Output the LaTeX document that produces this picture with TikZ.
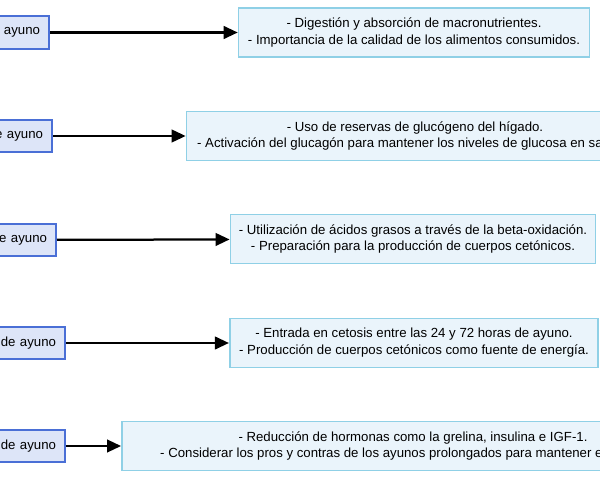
\documentclass[tikz,border=0pt]{standalone}
\usepackage{fontspec}
\setmainfont{Liberation Sans}
\usetikzlibrary{arrows.meta}
\definecolor{stagefill}{HTML}{DDE5F8}
\definecolor{stageline}{HTML}{4A6FD6}
\definecolor{notefill}{HTML}{EAF4FB}
\definecolor{noteline}{HTML}{8FD0E6}
\tikzset{
  stage/.style={draw=stageline, fill=stagefill, line width=1.2pt, anchor=east,
    text width=70pt, align=right, inner xsep=6.5pt, minimum height=23pt},
  note/.style={draw=noteline, fill=notefill, line width=1.2pt, align=center,
    minimum height=35pt, inner xsep=6pt},
  link/.style={line width=1.6pt, -{Triangle[length=10pt,width=9pt]}}
}
\begin{document}
\begin{tikzpicture}[x=0.025cm, y=-0.025cm, font=\fontsize{9.4}{12}\selectfont]
\useasboundingbox (0,0) rectangle (600,480);
\clip (0,0) rectangle (600,480);
% stages
\node[stage] (S1) at (50,32.5) {e ayuno};
\node[stage] (S2) at (53,136) {e ayuno};
\node[stage] (S3) at (57,240) {e ayuno};
\node[stage] (S4) at (66,343) {de ayuno};
\node[stage] (S5) at (66,446) {de ayuno};

% notes
\node[note, minimum width=249.5pt] (N1) at (414,32.5)
  {- Digestión y absorción de macronutrientes.\\- Importancia de la calidad de los alimentos consumidos.};
\node[note, minimum width=325pt] (N2) at (415,136)
  {- Uso de reservas de glucógeno del hígado.\\- Activación del glucagón para mantener los niveles de glucosa en sangre.};
\node[note, minimum width=259.5pt] (N3) at (413,239)
  {- Utilización de ácidos grasos a través de la beta-oxidación.\\- Preparación para la producción de cuerpos cetónicos.};
\node[note, minimum width=262pt] (N4) at (414,343)
  {- Entrada en cetosis entre las 24 y 72 horas de ayuno.\\- Producción de cuerpos cetónicos como fuente de energía.};
\node[note, minimum width=414pt] (N5) at (413,446)
  {- Reducción de hormonas como la grelina, insulina e IGF-1.\\- Considerar los pros y contras de los ayunos prolongados para mantener el equilibrio.};

% links
\foreach \i in {1,...,5}
  \draw[link] (S\i) -- (N\i);
\end{tikzpicture}
\end{document}
